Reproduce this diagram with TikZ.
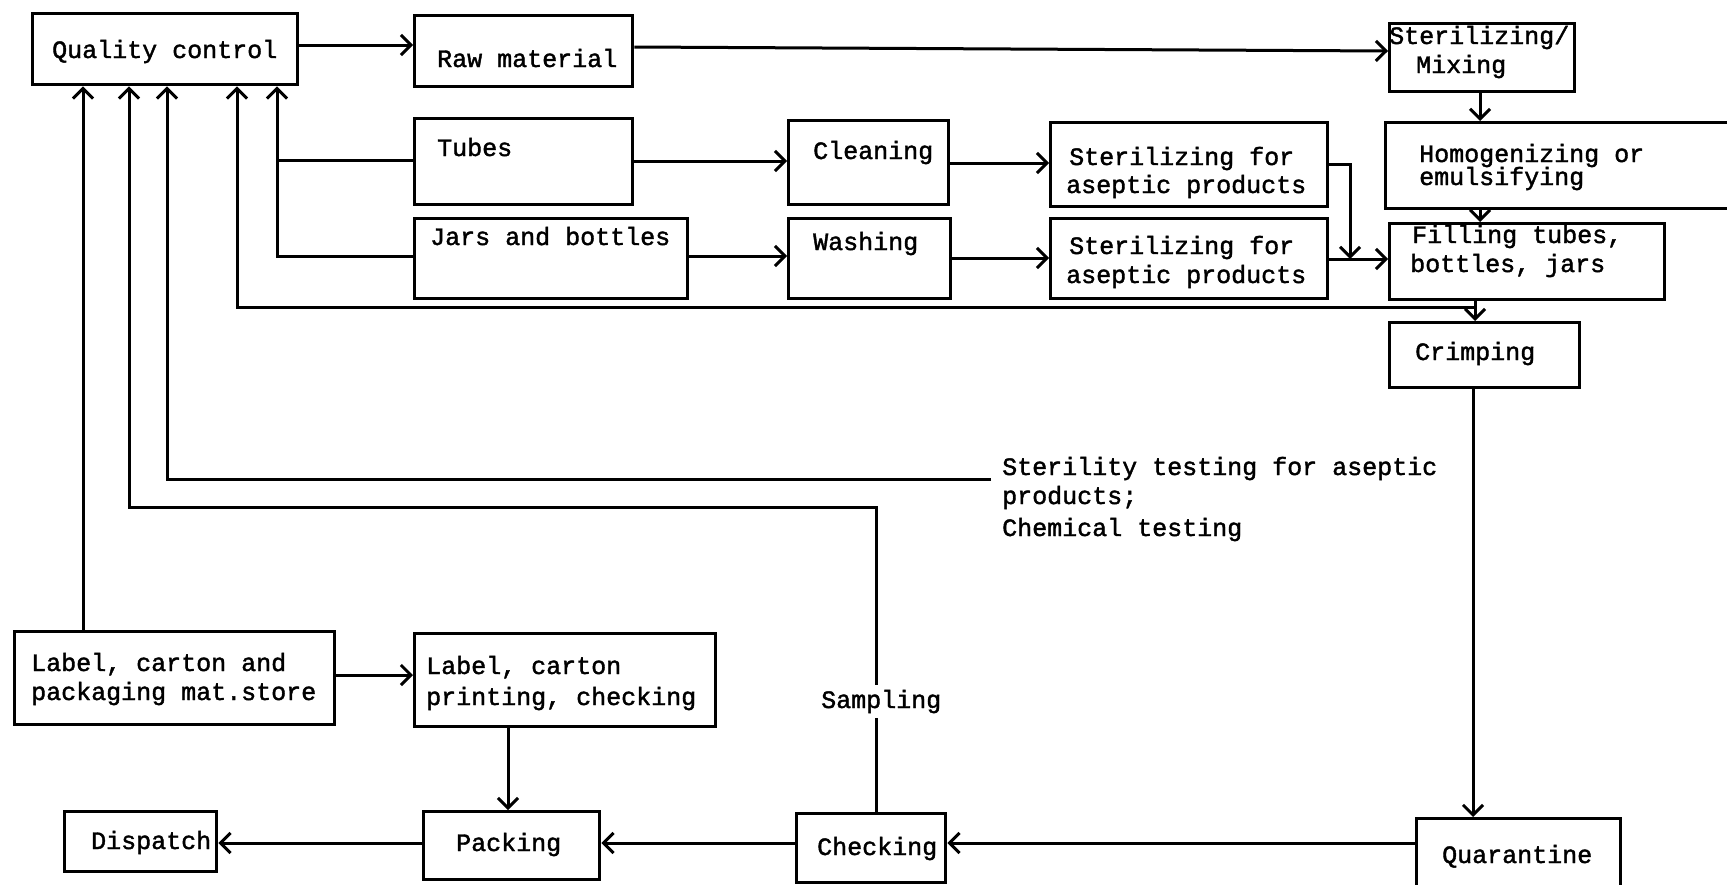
\documentclass[tikz,border=0pt]{standalone}
\usepackage{fontspec}
\setmonofont[FakeBold=1.6]{Liberation Mono}
\usetikzlibrary{arrows.meta}
\begin{document}
\begin{tikzpicture}[x=1pt,y=-1pt,
  blk/.style={draw, line width=3.4pt, rectangle, inner sep=0pt, anchor=north west},
  lbl/.style={font=\ttfamily\fontsize{25}{29}\selectfont, inner sep=0pt, anchor=base west},
  link/.style={line width=3pt},
  arr/.style={link, -{Straight Barb[length=10pt,width=20pt,line width=3pt]}}]
\useasboundingbox (0,0) rectangle (1727,884);
\clip (0,0) rectangle (1727,884);

% process boxes (top-left corner, size)
\node[blk, minimum width=265pt, minimum height=71pt] (qc)       at (31,12)   {};
\node[blk, minimum width=218pt, minimum height=71pt] (raw)      at (413,14)  {};
\node[blk, minimum width=185pt, minimum height=68pt] (stmix)    at (1388,22) {};
\node[blk, minimum width=218pt, minimum height=86pt] (tubes)    at (413,117) {};
\node[blk, minimum width=160pt, minimum height=84pt] (clean)    at (787,119) {};
\node[blk, minimum width=277pt, minimum height=84pt] (ster1)    at (1049,121) {};
\node[blk, minimum width=376pt, minimum height=86pt] (homog)    at (1384,121) {};
\node[blk, minimum width=273pt, minimum height=80pt] (jars)     at (413,217) {};
\node[blk, minimum width=162pt, minimum height=80pt] (wash)     at (787,217) {};
\node[blk, minimum width=277pt, minimum height=80pt] (ster2)    at (1049,217) {};
\node[blk, minimum width=275pt, minimum height=76pt] (fill)     at (1388,222) {};
\node[blk, minimum width=190pt, minimum height=65pt] (crimp)    at (1388,321) {};
\node[blk, minimum width=320pt, minimum height=93pt] (store)    at (13,630)  {};
\node[blk, minimum width=301pt, minimum height=93pt] (print)    at (413,632) {};
\node[blk, minimum width=152pt, minimum height=60pt] (dispatch) at (63,810)  {};
\node[blk, minimum width=176pt, minimum height=68pt] (packing)  at (422,810) {};
\node[blk, minimum width=149pt, minimum height=69pt] (checking) at (795,812) {};
\node[blk, minimum width=204pt, minimum height=83pt] (quar)     at (1415,817) {};

% box texts (baseline positions)
\node[lbl] (qc-t)      at (52,58)    {Quality control};
\node[lbl] (raw-t)     at (437,67)   {Raw material};
\node[lbl] (stmix-t1)  at (1389,44)  {Sterilizing/};
\node[lbl] (stmix-t2)  at (1416,73)  {Mixing};
\node[lbl] (tubes-t)   at (437,156)  {Tubes};
\node[lbl] (clean-t)   at (813,159)  {Cleaning};
\node[lbl] (ster1-t1)  at (1069,165) {Sterilizing for};
\node[lbl] (ster1-t2)  at (1066,193) {aseptic products};
\node[lbl] (homog-t1)  at (1419,162) {Homogenizing or};
\node[lbl] (homog-t2)  at (1419,185) {emulsifying};
\node[lbl] (jars-t)    at (430,245)  {Jars and bottles};
\node[lbl] (wash-t)    at (813,250)  {Washing};
\node[lbl] (ster2-t1)  at (1069,254) {Sterilizing for};
\node[lbl] (ster2-t2)  at (1066,283) {aseptic products};
\node[lbl] (fill-t1)   at (1412,243) {Filling tubes,};
\node[lbl] (fill-t2)   at (1410,272) {bottles, jars};
\node[lbl] (crimp-t)   at (1415,360) {Crimping};
\node[lbl] (store-t1)  at (31,671)   {Label, carton and};
\node[lbl] (store-t2)  at (31,700)   {packaging mat.store};
\node[lbl] (print-t1)  at (426,674)  {Label, carton};
\node[lbl] (print-t2)  at (426,705)  {printing, checking};
\node[lbl] (disp-t)    at (91,849)   {Dispatch};
\node[lbl] (pack-t)    at (456,851)  {Packing};
\node[lbl] (check-t)   at (817,855)  {Checking};
\node[lbl] (quar-t)    at (1442,863) {Quarantine};

% note on the tests returned to quality control
\node[lbl] (steril-t1) at (1002,475) {Sterility testing for aseptic};
\node[lbl] (steril-t2) at (1002,504) {products;};
\node[lbl] (steril-t3) at (1002,536) {Chemical testing};

% main product flow
\draw[arr] (qc.east |- 0,45) -- (raw.west |- 0,45);
\draw[arr] (raw.east |- 0,47) -- (stmix.west |- 0,51);
\draw[arr] (stmix.south -| 1480,0) -- (homog.north -| 1480,0);
\draw[arr] (homog.south -| 1480,0) -- (fill.north -| 1480,0);
\draw[arr] (fill.south -| 1475,0) -- (crimp.north -| 1475,0);
\draw[arr] (crimp.south -| 1473,0) -- (quar.north -| 1473,0);
\draw[arr] (quar.west |- 0,843) -- (checking.east |- 0,843);
\draw[arr] (checking.west |- 0,843) -- (packing.east |- 0,843);
\draw[arr] (packing.west |- 0,843) -- (dispatch.east |- 0,843);

% containers
\draw[arr] (tubes.east |- 0,161) -- (clean.west |- 0,161);
\draw[arr] (clean.east |- 0,163) -- (ster1.west |- 0,163);
\coordinate (merge) at (1350,259);
\draw[arr] (ster1.east |- 0,164) -| (merge);
\draw[arr] (jars.east |- 0,256) -- (wash.west |- 0,256);
\draw[arr] (wash.east |- 0,258) -- (ster2.west |- 0,258);
\draw[arr] (ster2.east |- 0,259) -- (fill.west |- 0,259);

% packaging material
\draw[arr] (store.east |- 0,675) -- (print.west |- 0,675);
\draw[arr] (print.south -| 508,0) -- (packing.north -| 508,0);

% returns to quality control
\draw[arr] (store.north -| 83,0) -- (qc.south -| 83,0);
\draw[arr] (checking.north -| 876,0) |- (129,507) -- (qc.south -| 129,0);
\coordinate (stend) at (991,479);
\draw[arr] (stend) -| (qc.south -| 167,0);
\coordinate (tapC) at (1475,307);
\draw[arr] (tapC) -| (qc.south -| 237,0);
\draw[arr] (tubes.west |- 0,160) -| (qc.south -| 277,0);
\draw[link] (jars.west |- 0,256) -| (277,160);

\node[lbl, fill=white, inner sep=5pt] (samp) at (816,708) {Sampling};
\end{tikzpicture}
\end{document}
